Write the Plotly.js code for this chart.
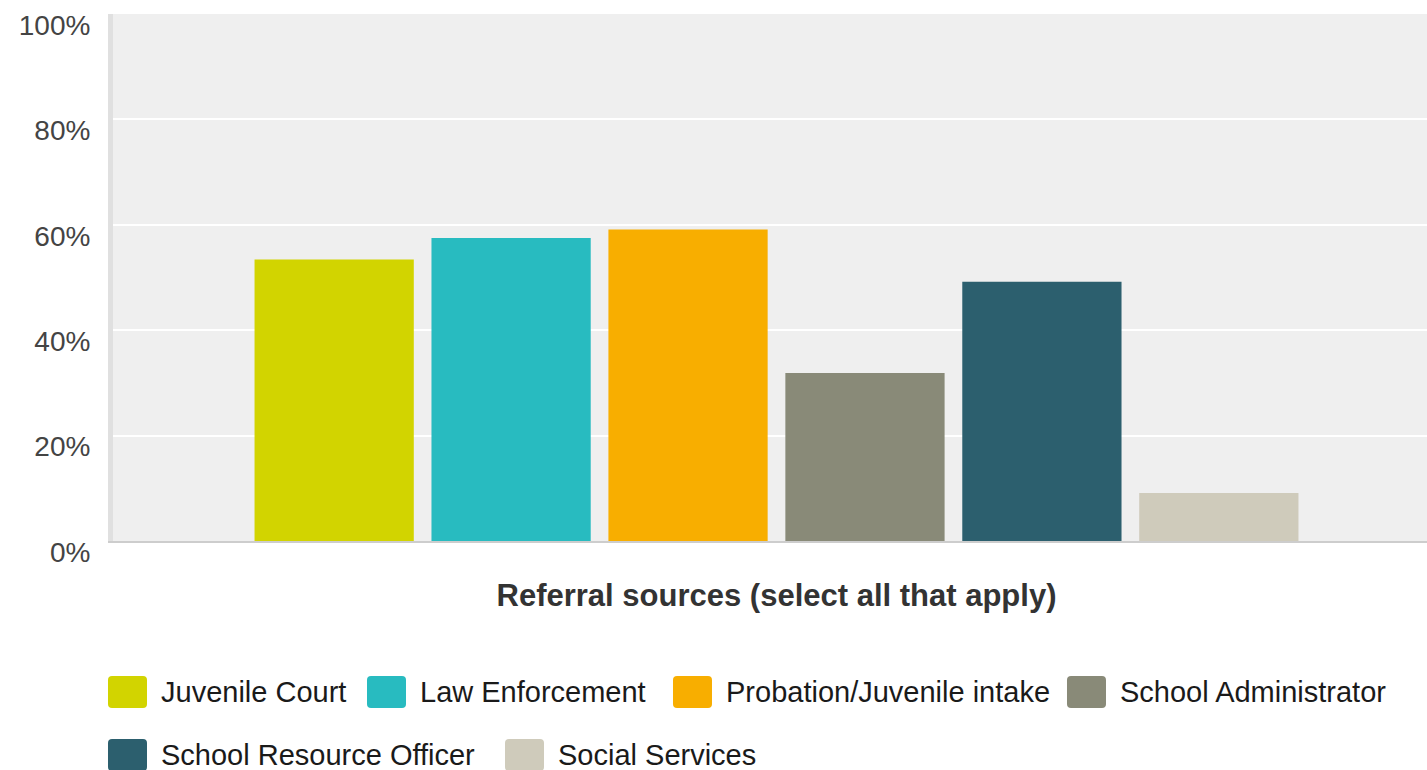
<!DOCTYPE html>
<html>
<head>
<meta charset="utf-8">
<script src="https://cdn.plot.ly/plotly-3.0.1.min.js"></script>
<style>
  html, body { margin: 0; padding: 0; background: #ffffff; overflow: hidden; }
  #chart { width: 1440px; height: 770px; }
</style>
</head>
<body>
<div id="chart"></div>
<script>
// ---- data ----
const category = ['Referral sources'];
const seriesNames = ['Juvenile Court', 'Law Enforcement', 'Probation/Juvenile intake',
                     'School Administrator', 'School Resource Officer', 'Social Services'];
const seriesValues = [53.4, 57.5, 59.1, 31.9, 49.2, 9.1];
const yTickValues = [0, 20, 40, 60, 80, 100];
const yTickLabels = ['0%', '20%', '40%', '60%', '80%', '100%'];
const axisTitle = 'Referral sources (select all that apply)';

// ---- styles ----
const seriesColors = ['#d2d400', '#28bbc0', '#f8ae00', '#898a78', '#2c5f6e', '#cfcbbb'];
const FONT = 'Liberation Sans, Arial, sans-serif';

// layout geometry (pixels)
const W = 1440, H = 770;
const M = { l: 113, r: 0, t: 14, b: 229 };
const plotW = W - M.l - M.r, plotH = H - M.t - M.b;
const px2x = p => (p - M.l) / plotW;
const px2y = p => (H - M.b - p) / plotH;

// legend layout (pixel positions of swatches)
const legendSwatchLeft = [108, 367, 673, 1067, 108, 505];
const legendRow = [0, 0, 0, 0, 1, 1];
const legendRowCenter = [692, 755];
const swW = 39, swH = 32, swR = 4, textGap = 12;

const traces = seriesNames.map((name, i) => ({
  type: 'bar',
  name: name,
  x: category,
  y: [seriesValues[i]],
  marker: { color: seriesColors[i], line: { width: 0 } },
  showlegend: false,
  hoverinfo: 'name+y'
}));

function roundedRect(x0, y0, w, h, r) {
  const X = p => px2x(p).toFixed(5), Y = p => px2y(p).toFixed(5);
  const x1 = x0 + w, y1 = y0 + h;
  return 'M' + X(x0 + r) + ',' + Y(y0) +
    ' L' + X(x1 - r) + ',' + Y(y0) +
    ' Q' + X(x1) + ',' + Y(y0) + ' ' + X(x1) + ',' + Y(y0 + r) +
    ' L' + X(x1) + ',' + Y(y1 - r) +
    ' Q' + X(x1) + ',' + Y(y1) + ' ' + X(x1 - r) + ',' + Y(y1) +
    ' L' + X(x0 + r) + ',' + Y(y1) +
    ' Q' + X(x0) + ',' + Y(y1) + ' ' + X(x0) + ',' + Y(y1 - r) +
    ' L' + X(x0) + ',' + Y(y0 + r) +
    ' Q' + X(x0) + ',' + Y(y0) + ' ' + X(x0 + r) + ',' + Y(y0) + ' Z';
}

const shapes = [];
const annotations = [];
seriesNames.forEach((name, i) => {
  const cy = legendRowCenter[legendRow[i]];
  const x0 = legendSwatchLeft[i];
  shapes.push({
    type: 'path', xref: 'paper', yref: 'paper',
    path: roundedRect(x0, cy - swH / 2, swW, swH, swR),
    fillcolor: seriesColors[i], line: { width: 0 }
  });
  annotations.push({
    xref: 'paper', yref: 'paper',
    x: px2x(x0 + swW + textGap), y: px2y(cy),
    xanchor: 'left', yanchor: 'middle',
    text: name, showarrow: false,
    font: { family: FONT, size: 29, color: '#1a1a1a' }
  });
});

const layout = {
  width: W, height: H,
  margin: M,
  paper_bgcolor: '#ffffff',
  plot_bgcolor: '#efefef',
  barmode: 'group',
  bargap: 0.2,
  bargroupgap: 0.1,
  showlegend: false,
  font: { family: FONT, color: '#444' },
  xaxis: {
    type: 'category',
    showticklabels: false,
    ticks: '',
    showgrid: false,
    zeroline: false,
    showline: true, linecolor: '#cdcdcd', linewidth: 2,
    automargin: false,
    title: { text: axisTitle, standoff: 42,
             font: { family: FONT, size: 31, color: '#333', weight: 'bold' } }
  },
  yaxis: {
    range: [0, 100],
    tickmode: 'array',
    tickvals: yTickValues,
    ticktext: yTickLabels,
    ticks: '',
    showgrid: true, gridcolor: '#ffffff', gridwidth: 2,
    zeroline: false,
    showline: true, linecolor: '#e0e0e0', linewidth: 5,
    ticklabelstandoff: 12,
    ticklabelshift: 11,
    automargin: false,
    tickfont: { family: FONT, size: 28, color: '#444' }
  },
  shapes: shapes,
  annotations: annotations
};

Plotly.newPlot('chart', traces, layout, { displayModeBar: false, staticPlot: true });
</script>
</body>
</html>
